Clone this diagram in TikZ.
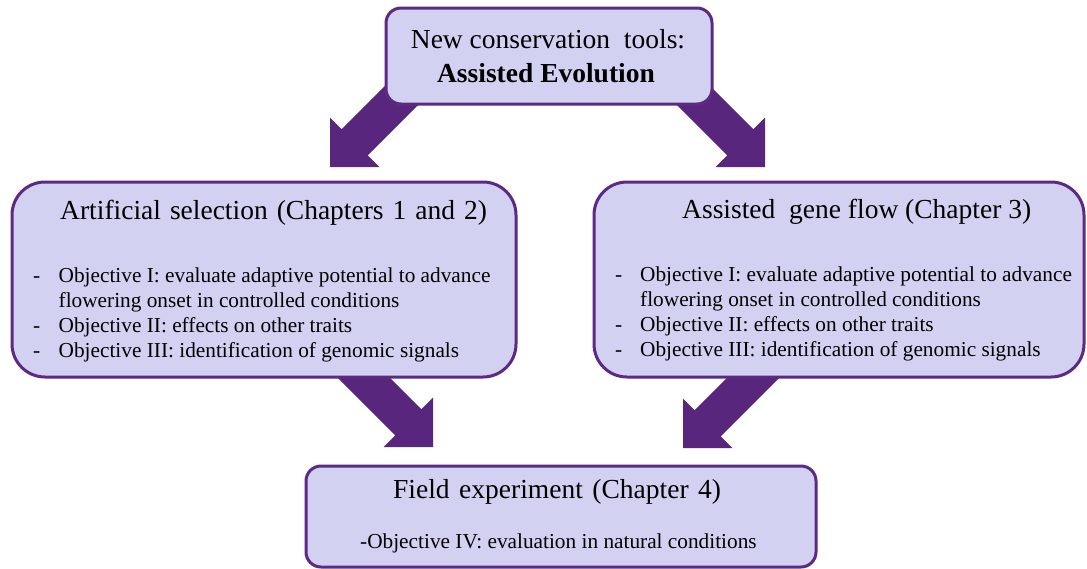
\documentclass[tikz,border=0pt]{standalone}
\usepackage{fontspec}
\setmainfont{Liberation Serif}
\usetikzlibrary{calc}
\definecolor{boxfill}{RGB}{211,209,242}
\definecolor{boxline}{RGB}{92,42,130}
\definecolor{arrowcol}{RGB}{88,38,124}
\newcommand{\ttlsize}{\fontsize{27.5}{33}\selectfont}
\newcommand{\objsize}{\fontsize{21.3}{25.5}\selectfont}
\tikzset{
  pbox/.style={draw=boxline, fill=boxfill, line width=3pt, rounded corners=#1, inner sep=0pt},
  blockarrow/.pic={
    \fill[arrowcol] (0,0) -- (-35,35) -- (-35,18.5) -- (-118,18.5) -- (-118,-18.5)
      -- (-35,-18.5) -- (-35,-35) -- cycle;
  },
  ttl/.style={anchor=base west, inner sep=0pt, font=\ttlsize},
  obj/.style={anchor=base west, inner sep=0pt, font=\objsize},
}
\begin{document}
\begin{tikzpicture}[x=1pt,y=-1pt]
\useasboundingbox (0,0) rectangle (1087,568);
\fill[white] (0,0) rectangle (1087,568);
% arrow tips
\coordinate (tipTL) at (330,167);
\coordinate (tipTR) at (765,167);
\coordinate (tipBL) at (433,447);
\coordinate (tipBR) at (683,448);
\path (tipTL) pic[rotate=225] {blockarrow};
\path (tipTR) pic[rotate=-45] {blockarrow};
\path (tipBL) pic[rotate=-45] {blockarrow};
\path (tipBR) pic[rotate=225] {blockarrow};
% boxes
\node[pbox=15pt, minimum width=326pt, minimum height=96pt] (top) at (549,56) {};
\node[pbox=33pt, minimum width=504pt, minimum height=195pt] (left) at (264,279.5) {};
\node[pbox=33pt, minimum width=490pt, minimum height=195pt] (right) at (839,279.5) {};
\node[pbox=15pt, minimum width=510pt, minimum height=101pt] (bottom) at (561,516.5) {};
% top text
\node[anchor=base, inner sep=0pt, font=\ttlsize] (topA) at (548,48) {New conservation\ \ tools:};
\node[anchor=base, inner sep=0pt, font=\ttlsize\bfseries] (topB) at (546,82) {Assisted Evolution};
% left text
\node[ttl, font={\ttlsize\spaceskip=9pt\relax}] (leftT) at (60,219.5) {Artificial selection (Chapters 1 and 2)};
\node[obj] (lD1) at (33,282) {-};
\node[obj] (l1) at (58.5,282) {Objective I: evaluate adaptive potential to advance};
\node[obj] (l2) at (58.5,307) {flowering onset in controlled conditions};
\node[obj] (lD3) at (33,332) {-};
\node[obj] (l3) at (58.5,332) {Objective II: effects on other traits};
\node[obj] (lD4) at (33,357) {-};
\node[obj] (l4) at (58.5,357) {Objective III: identification of genomic signals};
% right text
\node[ttl] (rightT) at (682,218.5) {Assisted\ \ gene flow (Chapter 3)};
\node[obj] (rD1) at (615,281) {-};
\node[obj] (r1) at (640,281) {Objective I: evaluate adaptive potential to advance};
\node[obj] (r2) at (640,306) {flowering onset in controlled conditions};
\node[obj] (rD3) at (615,331) {-};
\node[obj] (r3) at (640,331) {Objective II: effects on other traits};
\node[obj] (rD4) at (615,356) {-};
\node[obj] (r4) at (640,356) {Objective III: identification of genomic signals};
% bottom text
\node[ttl, font={\ttlsize\spaceskip=9.5pt\relax}] (botT) at (393,498) {Field experiment (Chapter 4)};
\node[obj] (botL) at (360,548) {-Objective IV: evaluation in natural conditions};
\end{tikzpicture}
\end{document}
